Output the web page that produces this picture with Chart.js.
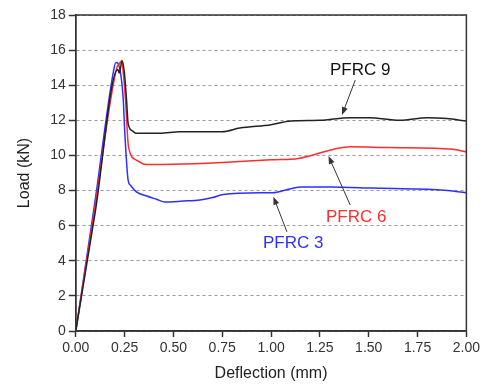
<!DOCTYPE html>
<html>
<head>
<meta charset="utf-8">
<script src="https://cdn.jsdelivr.net/npm/chart.js@4.4.1/dist/chart.umd.min.js"></script>
<style>
  body { margin: 0; background: #fff; }
  #wrap { width: 483px; height: 385px; }
</style>
</head>
<body>
<div id="wrap"><canvas id="chart"></canvas></div>
<script>
// deflection (mm) / load (kN)
const pfrc9X = [0, 0.10, 0.215, 0.223, 0.237, 0.248, 0.26, 0.268, 0.29, 0.311, 0.43, 0.533, 0.75, 0.84, 1.0, 1.10, 1.25, 1.405, 1.5, 1.66, 1.8, 1.9, 2.0];
const pfrc9Y = [0, 6.8, 14.9, 14.7, 15.4, 14.8, 13.15, 11.83, 11.4, 11.26, 11.26, 11.35, 11.35, 11.56, 11.75, 11.96, 12.0, 12.15, 12.15, 12.0, 12.15, 12.1, 11.96];

const pfrc6X = [0, 0.10, 0.21, 0.222, 0.235, 0.245, 0.255, 0.27, 0.31, 0.36, 0.5, 0.75, 1.0, 1.14, 1.405, 1.6, 1.93, 2.0];
const pfrc6Y = [0, 7.2, 15.0, 15.2, 15.4, 14.5, 13.1, 10.5, 9.74, 9.49, 9.5, 9.6, 9.75, 9.83, 10.5, 10.45, 10.35, 10.2];

const pfrc3X = [0, 0.10, 0.19, 0.205, 0.226, 0.243, 0.251, 0.268, 0.28, 0.31, 0.36, 0.414, 0.456, 0.55, 0.636, 0.7, 0.755, 0.944, 1.01, 1.08, 1.15, 1.3, 1.52, 1.87, 2.0];
const pfrc3Y = [0, 7.5, 14.6, 15.3, 14.9, 13.2, 11.3, 8.6, 8.3, 7.93, 7.7, 7.5, 7.35, 7.4, 7.46, 7.6, 7.78, 7.88, 7.88, 8.05, 8.2, 8.2, 8.14, 8.03, 7.88];

const xTicks = [0, 0.25, 0.5, 0.75, 1.0, 1.25, 1.5, 1.75, 2.0];
const yTicks = [0, 2, 4, 6, 8, 10, 12, 14, 16, 18];

const seriesNames = ['PFRC 9', 'PFRC 6', 'PFRC 3'];
const seriesColors = ['#222222', '#ff2d2d', '#2f2fff'];

// callouts: label position and arrow (tail -> head), in data units
const callouts = [
  { text: 'PFRC 9', color: '#111', at: [1.456, 14.86], tail: [1.431, 14.29], head: [1.363, 12.3] },
  { text: 'PFRC 6', color: '#ff2d2d', at: [1.436, 6.49], tail: [1.405, 7.18], head: [1.294, 9.97] },
  { text: 'PFRC 3', color: '#2f2fff', at: [1.113, 5.01], tail: [1.081, 5.65], head: [1.012, 7.65] }
];

function toPoints(xs, ys) {
  return xs.map((x, i) => ({ x: x, y: ys[i] }));
}

const FONT = 'Arial, "Liberation Sans", sans-serif';

const calloutPlugin = {
  id: 'callouts',
  afterDraw(chart) {
    const ctx = chart.ctx;
    const xs = chart.scales.x, ys = chart.scales.y;
    const a = chart.chartArea;

    // frame
    ctx.save();
    ctx.strokeStyle = '#333';
    ctx.lineWidth = 1.5;
    ctx.strokeRect(a.left, a.top, a.right - a.left, a.bottom - a.top);
    ctx.restore();

    callouts.forEach(c => {
      const tx = xs.getPixelForValue(c.tail[0]), ty = ys.getPixelForValue(c.tail[1]);
      const hx = xs.getPixelForValue(c.head[0]), hy = ys.getPixelForValue(c.head[1]);
      const ang = Math.atan2(hy - ty, hx - tx);
      ctx.save();
      ctx.strokeStyle = '#333';
      ctx.fillStyle = '#333';
      ctx.lineWidth = 1;
      ctx.beginPath();
      ctx.moveTo(tx, ty);
      ctx.lineTo(hx - 6 * Math.cos(ang), hy - 6 * Math.sin(ang));
      ctx.stroke();
      ctx.beginPath();
      ctx.moveTo(hx, hy);
      ctx.lineTo(hx - 8 * Math.cos(ang) + 3 * Math.sin(ang), hy - 8 * Math.sin(ang) - 3 * Math.cos(ang));
      ctx.lineTo(hx - 8 * Math.cos(ang) - 3 * Math.sin(ang), hy - 8 * Math.sin(ang) + 3 * Math.cos(ang));
      ctx.closePath();
      ctx.fill();

      ctx.font = '17px ' + FONT;
      ctx.fillStyle = c.color;
      ctx.textAlign = 'center';
      ctx.textBaseline = 'middle';
      ctx.fillText(c.text, xs.getPixelForValue(c.at[0]), ys.getPixelForValue(c.at[1]));
      ctx.restore();
    });
  }
};

const datasets = [
  toPoints(pfrc9X, pfrc9Y),
  toPoints(pfrc6X, pfrc6Y),
  toPoints(pfrc3X, pfrc3Y)
].map((pts, i) => ({
  label: seriesNames[i],
  data: pts,
  borderColor: seriesColors[i],
  borderWidth: 1.5,
  pointRadius: 0,
  cubicInterpolationMode: 'monotone',
  fill: false
}));

new Chart(document.getElementById('chart').getContext('2d'), {
  type: 'line',
  data: { datasets: datasets },
  options: {
    responsive: true,
    maintainAspectRatio: false,
    animation: false,
    layout: { padding: { top: 15, right: 16, left: 11, bottom: 0 } },
    plugins: { legend: { display: false }, tooltip: { enabled: false } },
    scales: {
      x: {
        type: 'linear',
        min: 0,
        max: 2,
        afterBuildTicks: s => { s.ticks = xTicks.map(v => ({ value: v })); },
        ticks: {
          color: '#333',
          font: { family: FONT, size: 14 },
          maxRotation: 0,
          padding: 3,
          callback: v => v.toFixed(2)
        },
        grid: { drawOnChartArea: false, tickLength: 6, tickColor: '#333', tickWidth: 1.5 },
        border: { color: '#333', width: 1.5 },
        title: { display: true, text: 'Deflection (mm)', color: '#222', font: { family: FONT, size: 16 }, padding: { top: 4, bottom: 2 } }
      },
      y: {
        min: 0,
        max: 18,
        afterBuildTicks: s => { s.ticks = yTicks.map(v => ({ value: v })); },
        ticks: {
          color: '#333',
          font: { family: FONT, size: 14 },
          padding: 3
        },
        grid: { color: '#999', lineWidth: 1, tickLength: 7, tickColor: '#333', tickWidth: 1.5 },
        border: { color: '#333', width: 1.5, dash: [3, 3] },
        title: { display: true, text: 'Load (kN)', color: '#222', font: { family: FONT, size: 16 }, padding: { top: 4, bottom: 13 } }
      }
    }
  },
  plugins: [calloutPlugin]
});
</script>
</body>
</html>
